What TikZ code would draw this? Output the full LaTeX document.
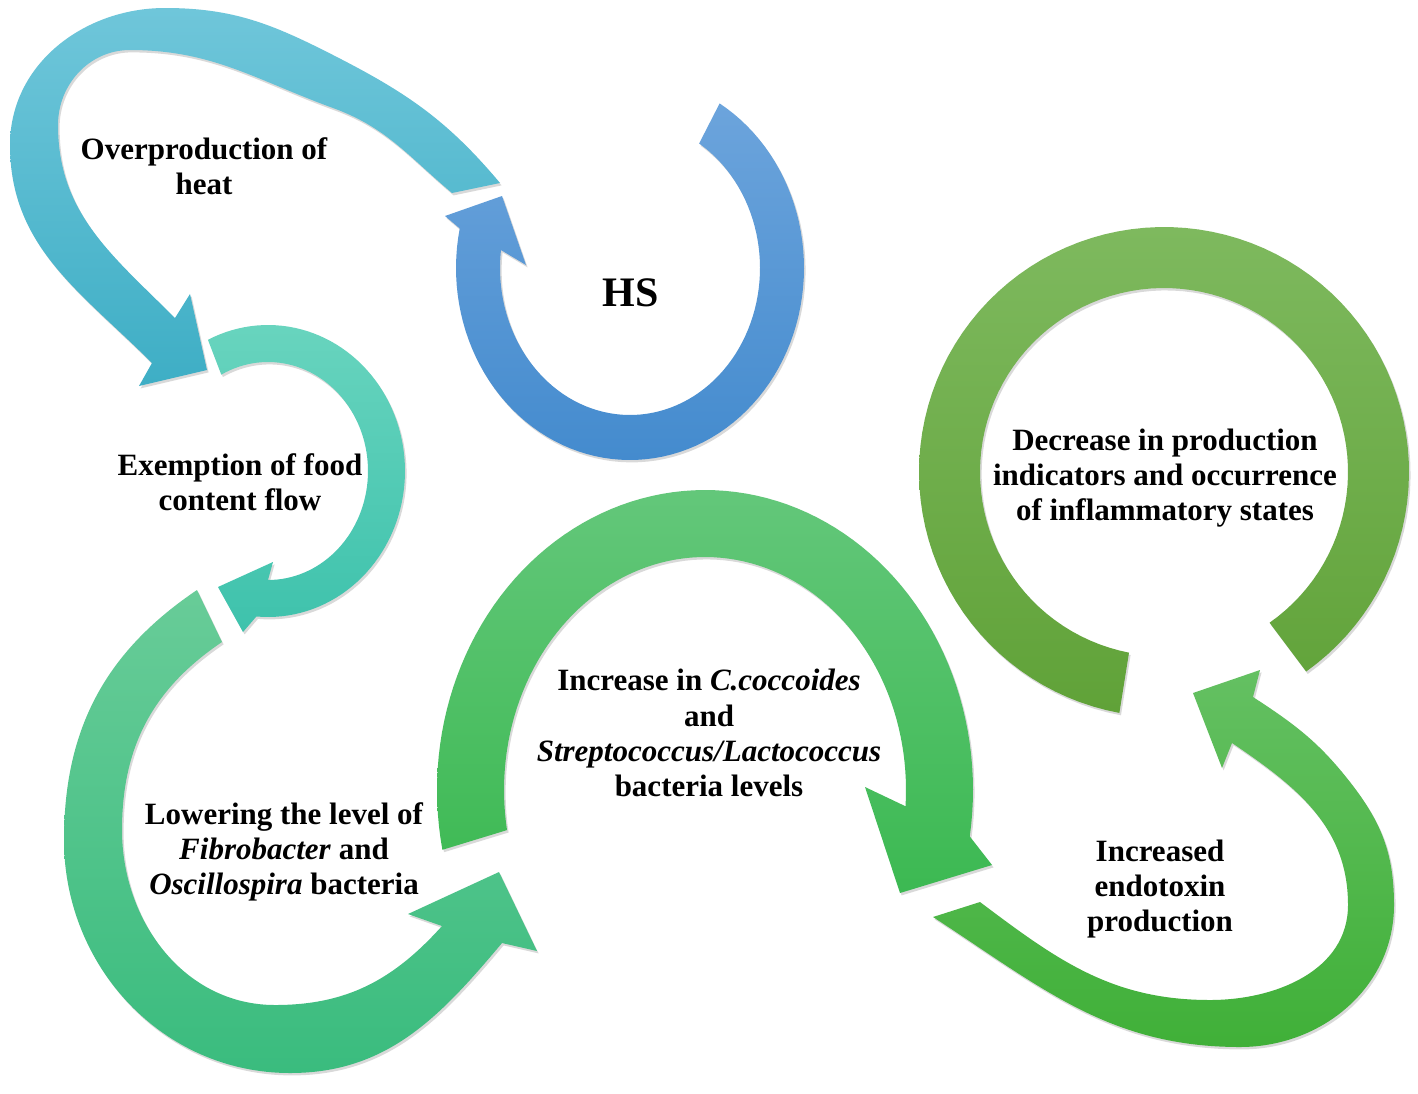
\documentclass[tikz,border=0pt]{standalone}
\usepackage{fontspec}
\setmainfont{Liberation Serif}
\usetikzlibrary{shadows}
\definecolor{c1t}{RGB}{111,198,218}\definecolor{c1b}{RGB}{62,174,197}
\definecolor{c2t}{RGB}{108,164,220}\definecolor{c2b}{RGB}{68,139,206}
\definecolor{c3t}{RGB}{104,212,190}\definecolor{c3b}{RGB}{62,194,172}
\definecolor{c4t}{RGB}{104,204,152}\definecolor{c4b}{RGB}{58,188,126}
\definecolor{c5t}{RGB}{99,199,122}\definecolor{c5b}{RGB}{60,185,82}
\definecolor{c6t}{RGB}{126,185,94}\definecolor{c6b}{RGB}{96,162,56}
\definecolor{c7t}{RGB}{100,192,98}\definecolor{c7b}{RGB}{64,176,56}
\tikzset{
  shadowed/.style={drop shadow={shadow xshift=0.8pt,shadow yshift=-1.2pt,opacity=0.15,fill=black}},
  arr1/.style={shadowed,top color=c1t,bottom color=c1b},
  arr2/.style={shadowed,top color=c2t,bottom color=c2b},
  arr3/.style={shadowed,top color=c3t,bottom color=c3b},
  arr4/.style={shadowed,top color=c4t,bottom color=c4b},
  arr5/.style={shadowed,top color=c5t,bottom color=c5b},
  arr6/.style={shadowed,top color=c6t,bottom color=c6b},
  arr7/.style={shadowed,top color=c7t,bottom color=c7b},
  lbl/.style={font=\fontsize{15.5}{17.6}\selectfont\bfseries,align=center,inner sep=0pt,text=black},
  big/.style={font=\fontsize{21}{24}\selectfont\bfseries,inner sep=0pt,text=black}
}
\begin{document}
\begin{tikzpicture}[x=0.5pt,y=-0.5pt]
\useasboundingbox (0,0) rectangle (1418,1093);
\fill[white] (0,0) rectangle (1418,1093);

% Arrow 1: Overproduction of heat (angles are visual, y up)
\path[arr1] (500,183) to[out=130,in=-27] (333,55) to[out=153,in=0] (165,8)
  to[out=180,in=90] (10,145) to[out=-90,in=135] (152,363)
  -- (139,386) -- (207,370) -- (190,294) -- (175,318)
  to[out=135,in=-90] (58,125) to[out=90,in=180] (130,50)
  to[out=0,in=160] (333,108) to[out=-20,in=140] (452,193) -- cycle;

% Arrow 2: HS
\path[arr2] plot[domain=0:1,samples=90,variable=\u] ({630+174*cos(-59+251*\u)},{268+192*sin(-59+251*\u)})
  -- (445,216) -- (502,196) -- (526,265)
  -- plot[domain=0:1,samples=90,variable=\u] ({630+130*cos(187-245*\u)},{268+147*sin(187-245*\u)}) -- cycle;

% Arrow 3: Exemption of food content flow
\path[arr3] plot[domain=0:1,samples=80,variable=\u] ({268+137*cos(-116+211*\u)},{471+146*sin(-116+211*\u)})
  -- (243,632) -- (218,587) -- (273,562)
  -- plot[domain=0:1,samples=80,variable=\u] ({268+100*cos(90-208*\u)},{471+109*sin(90-208*\u)}) -- cycle;

% Arrow 4: Lowering the level
\path[arr4] (197,590) to[out=-146,in=90] (64,840) to[out=-90,in=180] (290,1073)
  to[out=0,in=-130] (502,943)
  -- (537,951) -- (499,872) -- (408,914) -- (442,926)
  to[out=-132,in=0] (275,1005) to[out=180,in=-90] (122,830)
  to[out=90,in=-146] (222,642) -- cycle;

% Arrow 5: Increase in C.coccoides
\path[arr5] plot[domain=0:1,samples=90,variable=\u] ({705+268*cos(168.5+200.5*\u)},{790+300*sin(168.5+200.5*\u)})
  -- (992,865) -- (900,893) -- (865,787)
  -- plot[domain=0:1,samples=90,variable=\u] ({705+201*cos(364-194*\u)},{790+233*sin(364-194*\u)}) -- cycle;

% Ring 6: Decrease in production
\path[arr6] plot[domain=0:1,samples=100,variable=\u] ({1164+245*cos(100.5+314.5*\u)},{472+245*sin(100.5+314.5*\u)})
  -- plot[domain=0:1,samples=100,variable=\u] ({1164+184*cos(415-314.5*\u)},{472+184*sin(415-314.5*\u)}) -- cycle;

% Arrow 7: Increased endotoxin production
\path[arr7] (933,917) to[out=-33,in=180] (1240,1047) to[out=0,in=-90] (1394,905)
  to[out=90,in=-52] (1350,782) to[out=128,in=-33] (1253,697)
  -- (1260,670) -- (1193,693) -- (1222,768) -- (1232,743)
  to[out=-34,in=90] (1348,905) to[out=-90,in=0] (1210,1000)
  to[out=180,in=-37] (980,902) -- cycle;

% Labels
\node[lbl] (t1) at (204,166) {Overproduction of\\heat};
\node[big] (t2) at (631,293) {HS};
\node[lbl] (t3) at (240,482) {Exemption of food\\content flow};
\node[lbl] (t4) at (284,852) {Lowering the level of\\\textit{Fibrobacter} and\\\textit{Oscillospira} bacteria};
\node[lbl] (t5) at (709,733) {Increase in \textit{C.coccoides}\\and\\\textit{Streptococcus/Lactococcus}\\bacteria levels};
\node[lbl] (t6) at (1165,478) {Decrease in production\\indicators and occurrence\\of inflammatory states};
\node[lbl] (t7) at (1160,889) {Increased\\endotoxin\\production};
\end{tikzpicture}
\end{document}
